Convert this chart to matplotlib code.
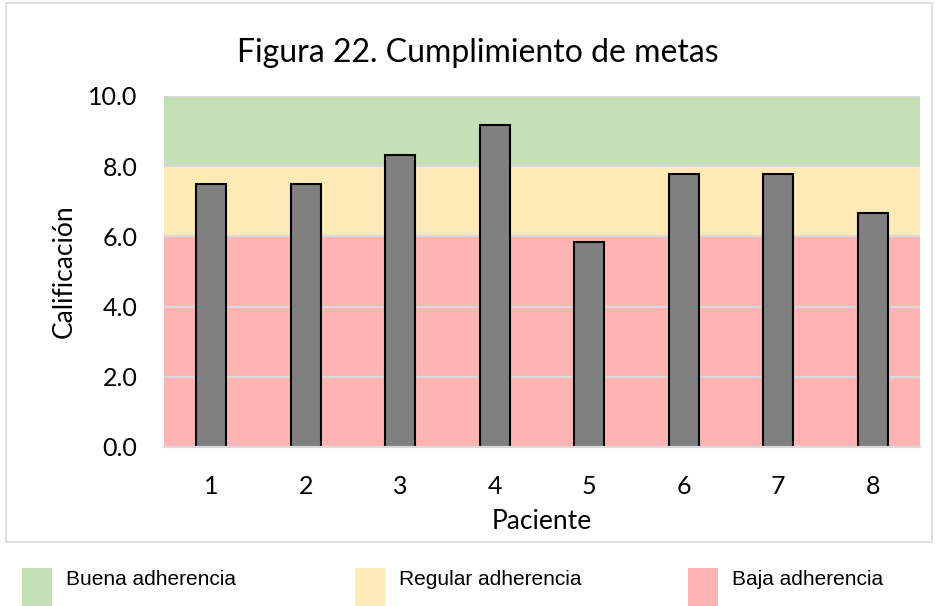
import matplotlib.pyplot as plt
from matplotlib.patches import Rectangle

# datos
pacientes = ['1', '2', '3', '4', '5', '6', '7', '8']
calificacion = [7.5, 7.5, 8.33, 9.17, 5.83, 7.78, 7.78, 6.67]

# zonas de adherencia (limite inferior, limite superior)
zonas = ['Buena adherencia', 'Regular adherencia', 'Baja adherencia']
zona_lim = [(8, 10), (6, 8), (0, 6)]
zona_col = ['#C5E0B4', '#FFEAB5', '#FFB3B3']

fig = plt.figure(figsize=(9.35, 6.06), dpi=100)
ax = fig.add_axes([0.1754, 0.2624, 0.8086, 0.5792])

# marco del grafico
fig.patches.append(Rectangle((0.006, 0.105), 0.991, 0.89, transform=fig.transFigure,
                             fill=False, edgecolor='#D9D9D9', linewidth=1.2))

for (lo, hi), c in zip(zona_lim, zona_col):
    ax.axhspan(lo, hi, color=c, zorder=0, linewidth=0)

for y in [2, 4, 6, 8, 10]:
    ax.axhline(y, color='#D9D9D9', linewidth=1.6, zorder=1)

x = range(1, len(pacientes) + 1)
ax.bar(x, calificacion, width=0.32, color='#808080', edgecolor='black', linewidth=1.5, zorder=3)

ax.set_xlim(0.5, 8.5)
ax.set_ylim(0, 10)
ax.set_yticks([0, 2, 4, 6, 8, 10])
ax.set_yticklabels([f'{v:.1f}' for v in [0, 2, 4, 6, 8, 10]])
ax.set_xticks(list(x))
ax.set_xticklabels(pacientes)
for s in ax.spines.values():
    s.set_visible(False)
ax.axhline(0, color='#D9D9D9', linewidth=1.6, zorder=4, clip_on=False)
ax.tick_params(length=0, labelsize=18)
ax.tick_params(axis='y', pad=19)
ax.tick_params(axis='x', pad=20)
for lab in ax.get_xticklabels() + ax.get_yticklabels():
    lab.set_family('Lato')

ax.set_xlabel('Paciente', fontsize=19, family='Lato', labelpad=8)
ax.set_ylabel('Calificación', fontsize=19, family='Lato', labelpad=8)
fig.text(0.511, 0.912, 'Figura 22. Cumplimiento de metas', ha='center', va='center',
         fontsize=23, family='Lato')

# leyenda debajo del marco
leg_x = [0.024, 0.38, 0.736]
for nombre, c, lx in zip(zonas, zona_col, leg_x):
    fig.patches.append(Rectangle((lx, 0.0), 0.032, 0.063, transform=fig.transFigure,
                                 facecolor=c, edgecolor='none'))
    fig.text(lx + 0.047, 0.043, nombre, ha='left', va='center', fontsize=15,
             family='Liberation Sans')

fig.savefig('out.png', dpi=100)
